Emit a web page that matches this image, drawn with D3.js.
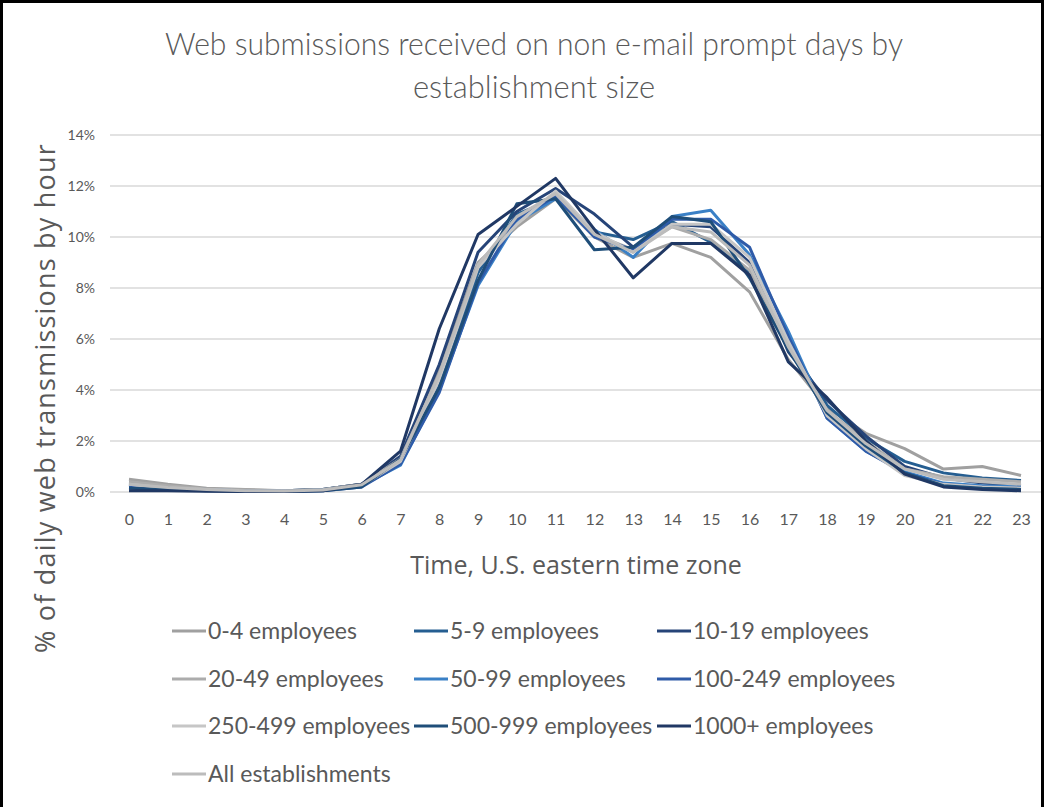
<!DOCTYPE html>
<html>
<head>
<meta charset="utf-8">
<script src="https://cdn.jsdelivr.net/npm/d3@7"></script>
<style>
  body { margin: 0; background: #fff; }
  text { fill: #595959; }
</style>
</head>
<body>
<svg id="chart" width="1045" height="807"></svg>
<script>
// hours of the day, U.S. eastern time
var hours = d3.range(0, 24);
var yTicks = [0, 2, 4, 6, 8, 10, 12, 14];

var seriesNames = ["0-4 employees", "5-9 employees", "10-19 employees",
  "20-49 employees", "50-99 employees", "100-249 employees",
  "250-499 employees", "500-999 employees", "1000+ employees",
  "All establishments"];
var seriesColors = ["#a0a0a0", "#255e91", "#264478", "#acacac", "#3a80c6",
  "#2f5ba8", "#c6c6c6", "#1f4e79", "#203864", "#bcbcbc"];

// % of daily web transmissions, per hour 0..23
var emp0_4     = [0.5,0.3,0.15,0.1,0.05,0.1,0.3,1.3,4.8,9.0,10.4,11.5,10.0,9.2,9.75,9.2,7.85,5.2,3.3,2.3,1.7,0.9,1.0,0.65];
var emp5_9     = [0.35,0.2,0.1,0.05,0.05,0.1,0.3,1.3,4.3,8.6,10.9,11.5,10.2,9.9,10.6,9.8,8.6,5.8,3.4,2.1,1.2,0.75,0.55,0.45];
var emp10_19   = [0.3,0.2,0.1,0.05,0.05,0.1,0.3,1.4,5.0,9.4,11.0,11.9,10.9,9.6,10.5,10.4,9.0,5.5,3.6,2.2,1.0,0.55,0.35,0.25];
var emp20_49   = [0.4,0.25,0.12,0.08,0.05,0.1,0.3,1.3,4.6,8.9,10.7,11.6,10.1,9.5,10.4,9.9,8.7,5.7,3.2,2.0,0.9,0.6,0.5,0.4];
var emp50_99   = [0.25,0.15,0.08,0.05,0.03,0.08,0.25,1.05,4.0,8.1,10.6,11.5,10.3,9.2,10.8,11.05,9.3,6.3,2.9,1.6,0.8,0.35,0.25,0.2];
var emp100_249 = [0.2,0.12,0.08,0.05,0.03,0.05,0.2,1.1,3.9,8.2,10.7,11.6,10.0,9.5,10.7,10.7,9.6,6.1,2.9,1.6,0.75,0.3,0.2,0.15];
var emp250_499 = [0.3,0.15,0.1,0.05,0.04,0.08,0.25,1.2,4.4,8.8,10.5,11.8,10.2,9.4,10.5,10.5,9.2,5.9,3.0,1.7,0.65,0.3,0.2,0.15];
var emp500_999 = [0.15,0.1,0.05,0.03,0.02,0.05,0.2,1.3,4.1,8.3,11.3,11.5,9.5,9.6,10.8,10.6,8.4,5.6,3.1,1.8,0.75,0.25,0.15,0.1];
var emp1000    = [0.05,0.05,0.03,0.02,0.02,0.05,0.3,1.6,6.4,10.1,11.2,12.3,10.3,8.4,9.75,9.75,8.5,5.1,3.7,2.0,0.7,0.2,0.1,0.05];
var allEst     = [0.3,0.18,0.1,0.05,0.04,0.08,0.28,1.25,4.6,8.9,10.8,11.7,10.1,9.4,10.4,10.2,8.9,5.7,3.2,1.9,0.9,0.5,0.4,0.3];

var seriesValues = [emp0_4, emp5_9, emp10_19, emp20_49, emp50_99, emp100_249,
  emp250_499, emp500_999, emp1000, allEst];

var svg = d3.select("#chart");

// outer frame
svg.append("rect")
  .attr("x", 1.5).attr("y", 1.5)
  .attr("width", 1041).attr("height", 830)
  .attr("fill", "none").attr("stroke", "#000").attr("stroke-width", 3);

var x = d3.scalePoint().domain(hours).range([129, 1021]);
var y = d3.scaleLinear().domain([0, 14]).range([492, 135]);

// gridlines
svg.append("g").selectAll("line").data(yTicks).join("line")
  .attr("x1", 110).attr("x2", 1041)
  .attr("y1", function(d) { return y(d); })
  .attr("y2", function(d) { return y(d); })
  .attr("stroke", "#d9d9d9").attr("stroke-width", 1.5);

// y axis labels
var yAxis = d3.axisLeft(y).tickValues(yTicks).tickSize(0).tickPadding(0)
  .tickFormat(function(d) { return d + "%"; });
svg.append("g").attr("transform", "translate(95,0)").call(yAxis)
  .call(function(g) { g.select(".domain").remove(); })
  .selectAll("text")
  .style("font-family", "Lato, sans-serif").style("font-size", "14px")
  .attr("fill", "#595959");

// x axis labels
var xAxis = d3.axisBottom(x).tickSize(0).tickPadding(0);
svg.append("g").attr("transform", "translate(0,514)").call(xAxis)
  .call(function(g) { g.select(".domain").remove(); })
  .selectAll("text")
  .style("font-family", "Lato, sans-serif").style("font-size", "16px")
  .attr("fill", "#595959");

// lines
var line = d3.line()
  .x(function(d, i) { return x(hours[i]); })
  .y(function(d) { return y(d); });

svg.append("g").selectAll("path").data(seriesValues).join("path")
  .attr("d", line)
  .attr("fill", "none")
  .attr("stroke", function(d, i) { return seriesColors[i]; })
  .attr("stroke-width", 3)
  .attr("stroke-linejoin", "round");

// title
svg.append("text")
  .attr("x", 534).attr("y", 55)
  .attr("text-anchor", "middle")
  .style("font-family", "Lato, sans-serif").style("font-weight", 300)
  .style("font-size", "31px")
  .attr("textLength", 738).attr("lengthAdjust", "spacingAndGlyphs")
  .text("Web submissions received on non e-mail prompt days by");
svg.append("text")
  .attr("x", 534).attr("y", 98)
  .attr("text-anchor", "middle")
  .style("font-family", "Lato, sans-serif").style("font-weight", 300)
  .style("font-size", "31px")
  .attr("textLength", 242).attr("lengthAdjust", "spacingAndGlyphs")
  .text("establishment size");

// axis titles
svg.append("text")
  .attr("transform", "translate(55,398) rotate(-90)")
  .attr("text-anchor", "middle")
  .style("font-family", "'Open Sans', sans-serif").style("font-size", "27px")
  .style("letter-spacing", "1.2px")
  .text("% of daily web transmissions by hour");
svg.append("text")
  .attr("x", 576).attr("y", 574)
  .attr("text-anchor", "middle")
  .style("font-family", "'Open Sans', sans-serif").style("font-size", "25px")
  .text("Time, U.S. eastern time zone");

// legend, 3 columns
var legendCols = [172, 414, 657];
var legendRows = [631, 679, 726, 774];
var legend = svg.append("g").selectAll("g").data(seriesNames).join("g")
  .attr("transform", function(d, i) {
    return "translate(" + legendCols[i % 3] + "," + legendRows[Math.floor(i / 3)] + ")";
  });
legend.append("line")
  .attr("x1", 0).attr("x2", 34)
  .attr("stroke", function(d, i) { return seriesColors[i]; })
  .attr("stroke-width", 3);
legend.append("text")
  .attr("x", 36).attr("y", 8)
  .style("font-family", "Lato, sans-serif").style("font-size", "23px")
  .text(function(d) { return d; });
</script>
</body>
</html>
